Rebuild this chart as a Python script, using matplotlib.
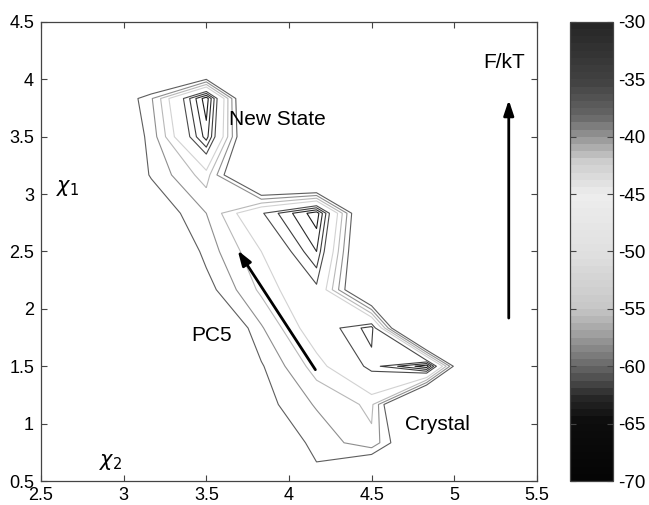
import numpy as np
import matplotlib
matplotlib.use("Agg")
import matplotlib.pyplot as plt
from matplotlib.colors import LinearSegmentedColormap, Normalize
import matplotlib.cm as cm

plt.rcParams['font.family'] = ['Liberation Sans', 'DejaVu Sans']
plt.rcParams['mathtext.fontset'] = 'dejavusans'

# grid of chi2 (x) and chi1 (y) bin centres
chi2 = [2.833, 3.167, 3.500, 3.833, 4.167, 4.500, 4.833, 5.167]
chi1 = [0.500, 0.833, 1.167, 1.500, 1.833, 2.167, 2.500, 2.833, 3.167, 3.500, 3.833, 4.167]

# free energy F/kT, rows = chi1 (bottom to top), cols = chi2
F = [
    [-10, -10, -10, -20, -35, -20, -15, -10],
    [-10, -12, -15, -32, -37, -43, -23, -10],
    [-10, -15, -20, -34, -40.5, -45, -5, -10],
    [-12, -18, -25, -35.5, -46, -56.5, -66, -4],
    [-15, -20, -25, -39.5, -51.7, -59.5, 5, -10],
    [-18, -22, -34, -45, -54, -19, -10, -10],
    [-20, -25, -37.5, -48, -61, -18, -10, -10],
    [-20, -31.5, -40, -54.5, -66, -19, -10, -10],
    [-25, -36.5, -46, -15, -10, -10, -10, -10],
    [-25, -37.5, -62.5, -15, -10, -10, -10, -10],
    [-25, -39.5, -66, -10, -10, -10, -10, -10],
    [-10, -10, -6, -10, -10, -10, -10, -10],
]

levels = [-64, -61, -58, -55, -48, -44, -40, -36]
level_colors = ['#1c1c1c', '#2c2c2c', '#3c3c3c', '#4a4a4a',
                '#d2d2d2', '#b8b8b8', '#8e8e8e', '#5e5e5e']

cbar_ticks = [-70, -65, -60, -55, -50, -45, -40, -35, -30]

# colormap of the colour bar (grey, dark at both ends)
cmap = LinearSegmentedColormap.from_list('fe', [
    (0.000, (0.02, 0.02, 0.02)),
    (0.125, (0.05, 0.05, 0.05)),
    (0.175, (0.15, 0.15, 0.15)),
    (0.250, (0.42, 0.42, 0.42)),
    (0.325, (0.65, 0.65, 0.65)),
    (0.375, (0.78, 0.78, 0.78)),
    (0.500, (0.88, 0.88, 0.88)),
    (0.625, (0.93, 0.93, 0.93)),
    (0.700, (0.80, 0.80, 0.80)),
    (0.750, (0.60, 0.60, 0.60)),
    (0.800, (0.40, 0.40, 0.40)),
    (0.875, (0.26, 0.26, 0.26)),
    (1.000, (0.15, 0.15, 0.15)),
], N=64)

fig = plt.figure(figsize=(6.49, 5.05), dpi=100)
ax = fig.add_axes([0.0632, 0.0475, 0.764, 0.909])
cax = fig.add_axes([0.878, 0.0475, 0.0663, 0.909])

X, Y = np.meshgrid(chi2, chi1)
Z = np.array(F, dtype=float)
ax.contour(X, Y, Z, levels=levels, colors=level_colors, linewidths=0.8)

ax.set_xlim(2.5, 5.5)
ax.set_ylim(0.5, 4.5)
ax.set_xticks([2.5, 3, 3.5, 4, 4.5, 5, 5.5])
ax.set_xticklabels(['2.5', '3', '3.5', '4', '4.5', '5', '5.5'])
ax.set_yticks([0.5, 1, 1.5, 2, 2.5, 3, 3.5, 4, 4.5])
ax.set_yticklabels(['0.5', '1', '1.5', '2', '2.5', '3', '3.5', '4', '4.5'])
ax.tick_params(direction='in', top=True, right=True, length=4, width=0.8,
               labelsize=13, colors='#444444', labelcolor='black')
ax.tick_params(axis='y', pad=5)
ax.tick_params(axis='x', pad=4)
for s in ax.spines.values():
    s.set_color('#444444')
    s.set_linewidth(0.9)

# annotations
ax.text(3.64, 3.65, 'New State', fontsize=15, ha='left', va='center')
ax.text(5.30, 4.15, 'F/kT', fontsize=15, ha='center', va='center')
ax.text(3.53, 1.77, 'PC5', fontsize=15, ha='center', va='center')
ax.text(4.90, 0.99, 'Crystal', fontsize=15, ha='center', va='center')
ax.text(2.66, 3.05, r'$\chi_1$', fontsize=15, ha='center', va='center')
ax.text(2.92, 0.67, r'$\chi_2$', fontsize=15, ha='center', va='center')

arrowprops = dict(arrowstyle='-|>,head_length=0.9,head_width=0.3', color='black', lw=2,
                  shrinkA=0, shrinkB=0)
ax.annotate('', xy=(5.33, 3.82), xytext=(5.33, 1.92), arrowprops=arrowprops)
ax.annotate('', xy=(3.69, 2.51), xytext=(4.16, 1.47), arrowprops=arrowprops)

sm = cm.ScalarMappable(norm=Normalize(-70, -30), cmap=cmap)
cb = fig.colorbar(sm, cax=cax, ticks=cbar_ticks)
cb.ax.set_yticklabels([str(t) for t in cbar_ticks])
cb.ax.tick_params(direction='in', left=True, right=True, length=4, width=0.8,
                  labelsize=13.5, colors='#444444', labelcolor='black', pad=4)
cb.outline.set_edgecolor('#444444')
cb.outline.set_linewidth(0.9)

fig.savefig('out.png', dpi=100)
